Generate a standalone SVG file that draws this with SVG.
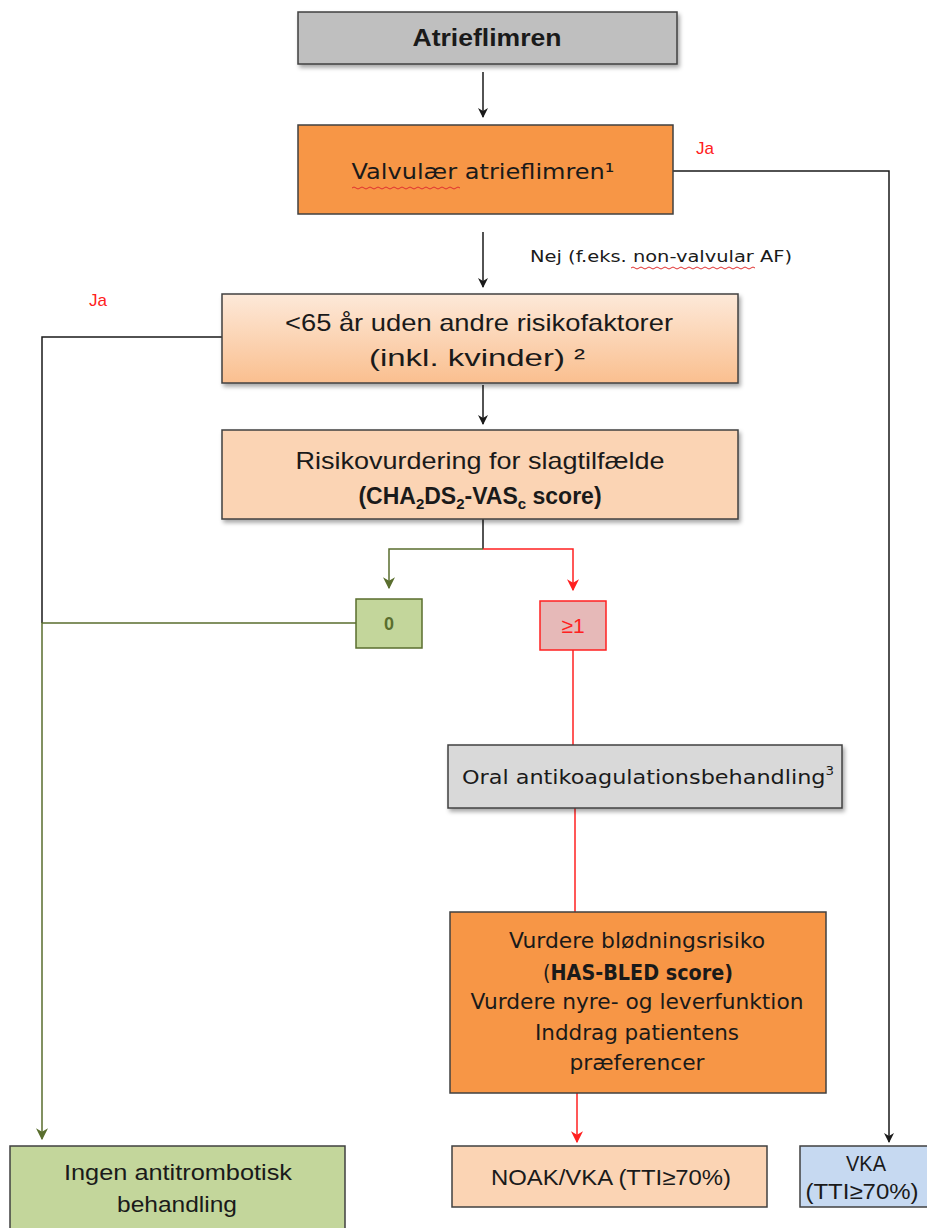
<svg xmlns="http://www.w3.org/2000/svg" width="927" height="1228" viewBox="0 0 927 1228">
<defs>
<style>
text{font-family:"Liberation Sans",Arial,sans-serif;fill:#1a1a1a;text-anchor:middle}
.box{stroke:#404040;stroke-width:1.5}
.wide{font-family:"DejaVu Sans","Liberation Sans",sans-serif}
.lbl{fill:#ff2020;font-size:17px}
.blk{stroke:#1a1a1a;stroke-width:1.5;fill:none}
.grn{stroke:#5a6e2e;stroke-width:1.5;fill:none}
.red{stroke:#ff2020;stroke-width:1.5;fill:none}
.sq{stroke:#e03030;stroke-width:1;fill:none}
</style>
<linearGradient id="peach" x1="0" y1="0" x2="0" y2="1">
<stop offset="0" stop-color="#fde9d9"/><stop offset="1" stop-color="#fabf8f"/>
</linearGradient>
<filter id="sh" x="-5%" y="-10%" width="115%" height="130%">
<feDropShadow dx="2" dy="3" stdDeviation="2" flood-color="#000" flood-opacity="0.35"/>
</filter>
<marker id="aB" viewBox="0 0 10 10" refX="9" refY="5" markerWidth="10" markerHeight="10" markerUnits="userSpaceOnUse" orient="auto"><path d="M0,0 L10,5 L0,10 L3,5 Z" fill="#1a1a1a"/></marker>
<marker id="aG" viewBox="0 0 10 10" refX="9" refY="5" markerWidth="12" markerHeight="12" markerUnits="userSpaceOnUse" orient="auto"><path d="M0,0 L10,5 L0,10 L3,5 Z" fill="#5a6e2e"/></marker>
<marker id="aR" viewBox="0 0 10 10" refX="9" refY="5" markerWidth="12" markerHeight="12" markerUnits="userSpaceOnUse" orient="auto"><path d="M0,0 L10,5 L0,10 L3,5 Z" fill="#ff2020"/></marker>
</defs>
<rect width="927" height="1228" fill="#ffffff"/>

<g id="connectors">
<line class="blk" x1="483" y1="72" x2="483" y2="117" marker-end="url(#aB)"/>
<polyline class="blk" points="673,171 889,171 889,1142" marker-end="url(#aB)"/>
<line class="blk" x1="483" y1="232" x2="483" y2="287" marker-end="url(#aB)"/>
<polyline class="blk" points="222,337 42,337 42,623"/>
<line class="blk" x1="483" y1="385" x2="483" y2="424" marker-end="url(#aB)"/>
<line class="blk" x1="483" y1="519" x2="483" y2="549"/>
<polyline class="grn" points="483,549 389,549 389,588" marker-end="url(#aG)"/>
<polyline class="red" points="483,549 573,549 573,590" marker-end="url(#aR)"/>
<polyline class="grn" points="356,623 42,623 42,1139" marker-end="url(#aG)"/>
<line class="red" x1="573" y1="650" x2="573" y2="745"/>
<line class="red" x1="575" y1="808" x2="575" y2="912"/>
<line class="red" x1="577" y1="1093" x2="577" y2="1142" marker-end="url(#aR)"/>
<text class="lbl" x="705" y="154">Ja</text>
<text class="lbl" x="98" y="306">Ja</text>
<text class="wide" x="530" y="262" style="font-size:15px;text-anchor:start" textLength="262" lengthAdjust="spacingAndGlyphs">Nej (f.eks. non-valvular AF)</text>
<path class="sq" d="M631,268 q2,-2 4,0 t4,0 t4,0 t4,0 t4,0 t4,0 t4,0 t4,0 t4,0 t4,0 t4,0 t4,0 t4,0 t4,0 t4,0 t4,0 t4,0 t4,0 t4,0 t4,0 t4,0 t4,0 t4,0 t4,0 t4,0 t4,0 t4,0 t4,0 t4,0 t4,0 t4,0"/>
</g>

<g id="n-atrieflimren">
<rect class="box" x="298" y="12" width="379" height="52" fill="#bfbfbf" filter="url(#sh)"/>
<text x="487" y="46" style="font-size:24px;font-weight:bold" textLength="149" lengthAdjust="spacingAndGlyphs">Atrieflimren</text>
</g>

<g id="n-valvular">
<rect class="box" x="298" y="125" width="375" height="89" fill="#f79646"/>
<text class="wide" x="483" y="179" style="font-size:21px" textLength="263" lengthAdjust="spacingAndGlyphs">Valvulær atrieflimren¹</text>
<path class="sq" d="M352,188 q2,-2 4,0 t4,0 t4,0 t4,0 t4,0 t4,0 t4,0 t4,0 t4,0 t4,0 t4,0 t4,0 t4,0 t4,0 t4,0 t4,0 t4,0 t4,0 t4,0 t4,0 t4,0 t4,0 t4,0 t4,0 t4,0 t4,0 t4,0"/>
</g>

<g id="n-under65">
<rect class="box" x="222" y="294" width="516" height="89" fill="url(#peach)" filter="url(#sh)"/>
<text x="479" y="331" style="font-size:24px" textLength="388" lengthAdjust="spacingAndGlyphs">&lt;65 år uden andre risikofaktorer</text>
<text x="477" y="366" style="font-size:24px" textLength="216" lengthAdjust="spacingAndGlyphs">(inkl. kvinder) ²</text>
</g>

<g id="n-risiko">
<rect class="box" x="222" y="430" width="516" height="89" fill="#fbd4b4" filter="url(#sh)"/>
<text x="480" y="469" style="font-size:24px" textLength="369" lengthAdjust="spacingAndGlyphs">Risikovurdering for slagtilfælde</text>
<text x="480" y="504" style="font-size:23px;font-weight:bold">(CHA<tspan dy="5" font-size="15">2</tspan><tspan dy="-5">DS</tspan><tspan dy="5" font-size="15">2</tspan><tspan dy="-5">-VAS</tspan><tspan dy="5" font-size="15">c</tspan><tspan dy="-5"> score)</tspan></text>
</g>

<g id="n-zero">
<rect x="356" y="599" width="66" height="49" fill="#c3d69b" stroke="#5a6e2e" stroke-width="1.5"/>
<text x="389" y="630" style="font-size:18px;font-weight:bold;fill:#5a6e2e">0</text>
</g>

<g id="n-one">
<rect x="540" y="601" width="66" height="49" fill="#e6b9b8" stroke="#ff2020" stroke-width="1.5"/>
<text x="573" y="633" style="font-size:21px;fill:#ff2020">≥1</text>
</g>

<g id="n-oral">
<rect class="box" x="448" y="745" width="394" height="63" fill="#d9d9d9" filter="url(#sh)"/>
<text class="wide" x="648" y="784" style="font-size:20px" textLength="372" lengthAdjust="spacingAndGlyphs">Oral antikoagulationsbehandling<tspan dy="-9" font-size="12">3</tspan></text>
</g>

<g id="n-vurdere">
<rect class="box" x="450" y="912" width="376" height="181" fill="#f79646"/>
<text class="wide" x="637" y="948" style="font-size:21px" textLength="256" lengthAdjust="spacingAndGlyphs">Vurdere blødningsrisiko</text>
<text class="wide" x="638" y="980" style="font-size:21px" textLength="190" lengthAdjust="spacingAndGlyphs">(<tspan font-weight="bold">HAS-BLED score)</tspan></text>
<text class="wide" x="637" y="1009" style="font-size:21px" textLength="333" lengthAdjust="spacingAndGlyphs">Vurdere nyre- og leverfunktion</text>
<text class="wide" x="637" y="1040" style="font-size:21px" textLength="204" lengthAdjust="spacingAndGlyphs">Inddrag patientens</text>
<text class="wide" x="637" y="1070" style="font-size:21px" textLength="135" lengthAdjust="spacingAndGlyphs">præferencer</text>
</g>

<g id="n-ingen">
<rect class="box" x="10" y="1146" width="335" height="90" fill="#c3d69b"/>
<text x="178" y="1180" style="font-size:22px" textLength="228" lengthAdjust="spacingAndGlyphs">Ingen antitrombotisk</text>
<text x="177" y="1212" style="font-size:22px" textLength="120" lengthAdjust="spacingAndGlyphs">behandling</text>
</g>

<g id="n-noak">
<rect class="box" x="452" y="1146" width="315" height="61" fill="#fbd4b4"/>
<text x="611" y="1185" style="font-size:22px" textLength="240" lengthAdjust="spacingAndGlyphs">NOAK/VKA (TTI≥70%)</text>
</g>

<g id="n-vka">
<rect class="box" x="800" y="1146" width="130" height="61" fill="#c6d9f1"/>
<text x="866" y="1171" style="font-size:22px" textLength="40" lengthAdjust="spacingAndGlyphs">VKA</text>
<text x="862" y="1199" style="font-size:22px" textLength="113" lengthAdjust="spacingAndGlyphs">(TTI≥70%)</text>
</g>
</svg>
